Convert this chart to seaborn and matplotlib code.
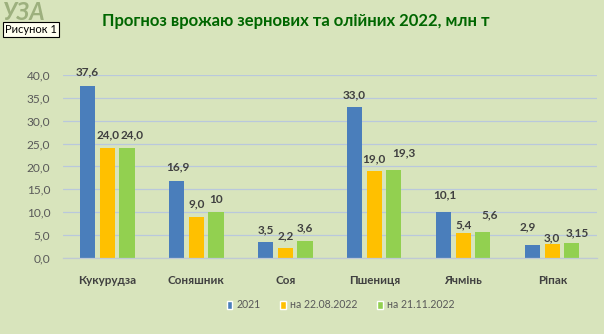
import matplotlib
matplotlib.use("Agg")
import matplotlib.pyplot as plt
import seaborn as sns
import pandas as pd
from matplotlib.ticker import FuncFormatter

categories = ["Кукурудза", "Соняшник", "Соя", "Пшениця", "Ячмінь", "Ріпак"]
series_names = ["2021", "на 22.08.2022", "на 21.11.2022"]
v2021 = [37.6, 16.9, 3.5, 33.0, 10.1, 2.9]
v0822 = [24.0, 9.0, 2.2, 19.0, 5.4, 3.0]
v1121 = [24.0, 10.0, 3.6, 19.3, 5.6, 3.15]
lab2021 = ["37,6", "16,9", "3,5", "33,0", "10,1", "2,9"]
lab0822 = ["24,0", "9,0", "2,2", "19,0", "5,4", "3,0"]
lab1121 = ["24,0", "10", "3,6", "19,3", "5,6", "3,15"]
colors = ["#4A7EBB", "#FFC000", "#92D050"]
bg = "#D8E4BC"

# label placement nudges (pixels: dx, dy above bar top), as in the reference
off2021 = [(-1, 14), (1, 14), (0, 12), (-1, 12), (1, 17), (-5, 18)]
off0822 = [(1, 13), (0, 13), (0, 12), (0, 12), (0, 8), (0, 6)]
off1121 = [(5, 13), (0, 13), (0, 14), (10, 17), (7, 17), (5, 11)]

rows = []
for s, vals in zip(series_names, [v2021, v0822, v1121]):
    for c, v in zip(categories, vals):
        rows.append({"cat": c, "series": s, "value": v})
df = pd.DataFrame(rows)

sns.set_theme(style="white")
plt.rcParams["font.family"] = ["Lato", "DejaVu Sans"]

fig = plt.figure(figsize=(6.04, 3.34), dpi=100, facecolor=bg)
ax = fig.add_axes([0.104, 0.228, 0.884, 0.547], facecolor=bg)

sns.barplot(data=df, x="cat", y="value", hue="series", order=categories,
            hue_order=series_names, palette=colors, width=0.66, ax=ax,
            saturation=1, legend=True, errorbar=None)

labels = [lab2021, lab0822, lab1121]
offsets = [off2021, off0822, off1121]
for ci, cont in enumerate(ax.containers):
    for pi, p in enumerate(cont.patches):
        w = p.get_width()
        nw = w * 0.78
        p.set_x(p.get_x() + (w - nw) / 2)
        p.set_width(nw)
        p.set_linewidth(0)
        dx, dy = offsets[ci][pi]
        ax.annotate(labels[ci][pi], (p.get_x() + nw / 2, p.get_height()),
                    xytext=(dx, dy), textcoords="offset pixels",
                    ha="center", va="center", fontsize=8.5, fontweight="bold",
                    color="#404040", annotation_clip=False)

ax.set_ylim(0, 40)
ax.set_yticks(range(0, 41, 5))
ax.yaxis.set_major_formatter(FuncFormatter(lambda v, p: f"{v:.1f}".replace(".", ",")))
ax.grid(axis="y", color="#B9C8DC", linewidth=0.9)
ax.set_axisbelow(True)
for s in ["top", "right", "left"]:
    ax.spines[s].set_visible(False)
ax.spines["bottom"].set_color("#BFC9D4")
ax.spines["bottom"].set_linewidth(0.9)
ax.set_xlabel("")
ax.set_ylabel("")
ax.tick_params(axis="y", length=0, labelsize=8.6, labelcolor="#595959", pad=9)
ax.tick_params(axis="x", length=0, labelsize=8.4, labelcolor="#404040", pad=12)
for t in ax.get_xticklabels():
    t.set_fontweight("bold")
ax.set_xlim(-0.5, 5.5)

leg = ax.legend(loc="upper center", bbox_to_anchor=(0.52, -0.175), ncol=3,
                frameon=False, fontsize=7.6, handlelength=0.55, handleheight=0.75,
                handletextpad=0.35, columnspacing=1.9, labelcolor="#595959")

fig.text(0.49, 0.937, "Прогноз врожаю зернових та олійних 2022, млн т",
         ha="center", va="center", fontsize=12, fontweight="bold", color="#006600")
fig.text(0.005, 0.962, "УЗА", ha="left", va="center", fontsize=17,
         fontweight="bold", color="#9DB07E", fontstyle="italic")
fig.text(0.008, 0.912, "Рисунок 1", ha="left", va="center", fontsize=8,
         color="black",
         bbox=dict(boxstyle="square,pad=0.2", facecolor="#FFFFF0", edgecolor="black", linewidth=0.8))

fig.savefig("out.png", dpi=100, facecolor=bg)
